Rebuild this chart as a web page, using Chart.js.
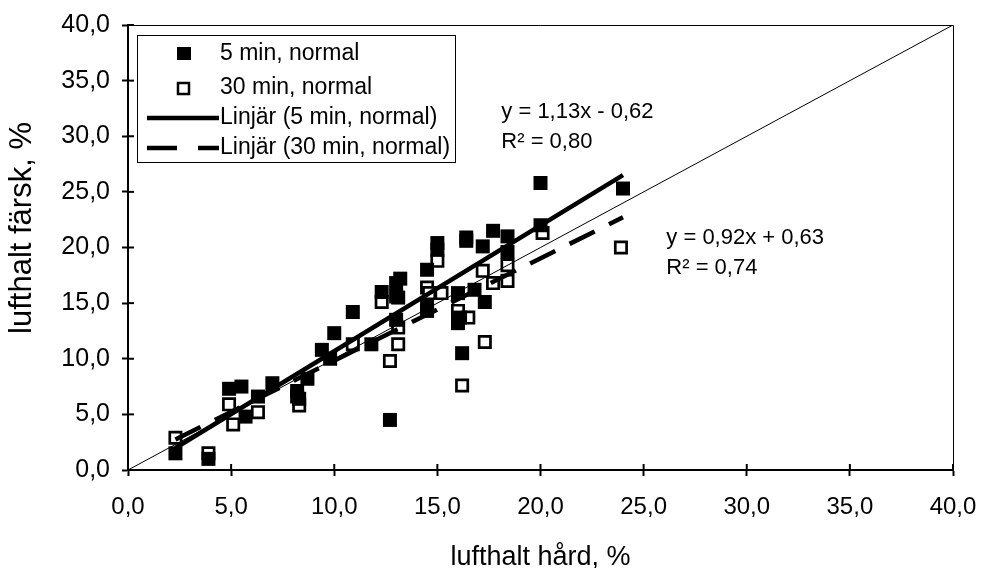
<!DOCTYPE html>
<html><head><meta charset="utf-8">
<script src="https://cdn.jsdelivr.net/npm/chart.js@4"></script>
<style>html,body{margin:0;padding:0;background:#fff}#wrap{width:982px;height:568px}</style>
</head><body><div id="wrap"><canvas id="c" width="982" height="568"></canvas></div>
<script>
// ---- data ----
const xTickValues = [0, 5, 10, 15, 20, 25, 30, 35, 40];
const yTickValues = [0, 5, 10, 15, 20, 25, 30, 35, 40];
const seriesLabels = ['5 min, normal', '30 min, normal', 'Linjär (5 min, normal)', 'Linjär (30 min, normal)'];
const xTitle = 'lufthalt hård, %';
const yTitle = 'lufthalt färsk, %';

const x5min = [2.3, 3.9, 4.9, 5.5, 5.7, 6.3, 7.0, 8.2, 8.3, 8.7, 9.4, 10.0, 9.8, 10.9, 11.8, 12.3, 12.7, 13.0, 13.1, 13.2, 13.0, 14.5, 14.5, 14.5, 15.0, 15.0, 16.0, 16.0, 16.1, 16.2, 16.4, 16.4, 16.8, 17.2, 17.3, 17.7, 18.4, 18.4, 20.0, 20.0, 24.0];
const y5min = [1.5, 1.0, 7.3, 7.5, 4.8, 6.6, 7.8, 7.1, 6.4, 8.2, 10.8, 12.3, 10.0, 14.2, 11.3, 16.0, 4.5, 13.5, 15.5, 17.2, 16.8, 18.0, 14.7, 14.3, 20.4, 19.8, 15.9, 13.2, 13.7, 10.5, 20.9, 20.6, 16.2, 20.1, 15.1, 21.5, 21.0, 19.6, 25.8, 22.0, 25.3];

const x30min = [2.3, 3.9, 4.9, 5.1, 6.3, 8.3, 8.2, 10.9, 12.3, 12.7, 13.0, 13.1, 13.1, 14.5, 14.6, 15.0, 15.2, 16.0, 16.5, 16.2, 17.2, 17.3, 17.7, 18.4, 18.4, 20.1, 23.9];
const y30min = [2.9, 1.5, 5.9, 4.1, 5.2, 5.8, 6.6, 11.3, 15.1, 9.8, 15.6, 11.3, 12.8, 16.4, 15.9, 18.8, 15.9, 14.3, 13.7, 7.6, 17.9, 11.5, 16.8, 18.4, 17.0, 21.3, 20.0];

const fitSlope = [1.13, 0.92];
const fitIntercept = [-0.62, 0.63];
const fitRange = [[2.3, 24.0], [2.3, 24.0]];
const fitEquation = ['y = 1,13x - 0,62', 'y = 0,92x + 0,63'];
const fitR2 = ['R² = 0,80', 'R² = 0,74'];
const fitTextAt = [[18.1, 32.2], [26.1, 20.9]];
const refLine = [0, 40];

// ---- build ----
const pts = (xs, ys) => xs.map((x, i) => ({ x, y: ys[i] }));
const fitPts = k => fitRange[k].map(x => ({ x, y: fitSlope[k] * x + fitIntercept[k] }));
const fmt = v => Number(v).toFixed(1).replace('.', ',');
const FONT = "'Liberation Sans', Arial, sans-serif";

const ds = [
  { label: seriesLabels[0], type: 'scatter', data: pts(x5min, y5min), pointStyle: 'rect', pointRadius: 9.9, backgroundColor: '#000', borderColor: '#000', borderWidth: 0, order: 3 },
  { label: seriesLabels[1], type: 'scatter', data: pts(x30min, y30min), pointStyle: 'rect', pointRadius: 8, backgroundColor: '#fff', borderColor: '#000', borderWidth: 2.7, order: 4 },
  { label: seriesLabels[2], type: 'line', data: fitPts(0), borderColor: '#000', borderWidth: 4.5, pointRadius: 0, fill: false, order: 1 },
  { label: seriesLabels[3], type: 'line', data: fitPts(1), borderColor: '#000', borderWidth: 4.5, borderDash: [28, 16], pointRadius: 0, fill: false, order: 2 },
  { label: 'ref', type: 'line', data: refLine.map(v => ({ x: v, y: v })), borderColor: '#000', borderWidth: 1, pointRadius: 0, fill: false, order: 0 }
];

const decor = {
  id: 'decor',
  afterDatasetsDraw(chart) {
    const { ctx, chartArea: a, scales: { x, y } } = chart;
    ctx.save();
    // frame top/right
    ctx.strokeStyle = '#000'; ctx.lineWidth = 1;
    ctx.beginPath(); ctx.moveTo(a.left, a.top + 0.5); ctx.lineTo(a.right + 0.5, a.top + 0.5); ctx.lineTo(a.right + 0.5, a.bottom); ctx.stroke();
    // inner tick halves
    ctx.lineWidth = 2;
    xTickValues.forEach(v => { const px = x.getPixelForValue(v); ctx.beginPath(); ctx.moveTo(px, a.bottom); ctx.lineTo(px, a.bottom - 6); ctx.stroke(); });
    yTickValues.forEach(v => { const py = y.getPixelForValue(v); ctx.beginPath(); ctx.moveTo(a.left, py); ctx.lineTo(a.left + 6, py); ctx.stroke(); });
    // fit annotations
    ctx.fillStyle = '#000'; ctx.font = '22px ' + FONT; ctx.textBaseline = 'middle'; ctx.textAlign = 'left';
    fitTextAt.forEach((p, k) => {
      const px = x.getPixelForValue(p[0]), py = y.getPixelForValue(p[1]);
      ctx.fillText(fitEquation[k], px, py);
      ctx.fillText(fitR2[k], px, py + 30);
    });
    // legend
    const L = 137, T = 35, R = 455, B = 162;
    ctx.fillStyle = '#fff'; ctx.fillRect(L, T, R - L, B - T);
    ctx.lineWidth = 1; ctx.strokeStyle = '#000'; ctx.strokeRect(L + 0.5, T + 0.5, R - L, B - T);
    const rows = [54, 88, 118, 148];
    ctx.font = '23px ' + FONT;
    rows.forEach((ry, i) => {
      const d = chart.data.datasets[i];
      ctx.fillStyle = '#000';
      if (i === 0) { ctx.fillRect(177, ry - 7, 14, 13); }
      else if (i === 1) { ctx.lineWidth = 2.5; ctx.strokeRect(178, ry - 5, 11, 11); }
      else {
        ctx.lineWidth = 4.5; ctx.setLineDash(i === 3 ? [30, 21] : []);
        ctx.beginPath(); ctx.moveTo(147, ry); ctx.lineTo(219, ry); ctx.stroke(); ctx.setLineDash([]);
      }
      ctx.fillText(d.label, 220, ry);
    });
    // axis titles
    ctx.font = '27px ' + FONT; ctx.textAlign = 'center';
    ctx.fillText(xTitle, (a.left + a.right) / 2, 558);
    ctx.save(); ctx.translate(22, 228); ctx.rotate(-Math.PI / 2);
    ctx.font = '31px ' + FONT; ctx.fillText(yTitle, 0, 0); ctx.restore();
    ctx.restore();
  }
};

new Chart(document.getElementById('c'), {
  data: { datasets: ds },
  options: {
    responsive: false, animation: false, devicePixelRatio: 1,
    layout: { padding: { left: 0, right: 29, top: 25, bottom: 0 } },
    plugins: { legend: { display: false }, tooltip: { enabled: false } },
    scales: {
      x: {
        type: 'linear', min: 0, max: 40,
        afterBuildTicks: s => { s.ticks = xTickValues.map(v => ({ value: v })); },
        afterFit: s => { s.height = 98; s.paddingLeft = 0; s.paddingRight = 0; },
        ticks: { callback: fmt, color: '#000', font: { family: FONT, size: 24 }, padding: 17, maxRotation: 0 },
        grid: { drawOnChartArea: false, drawTicks: true, tickLength: 6, tickWidth: 2, tickColor: '#000' },
        border: { display: true, color: '#000', width: 2 },
        title: { display: false, text: xTitle }
      },
      y: {
        type: 'linear', min: 0, max: 40,
        afterBuildTicks: s => { s.ticks = yTickValues.map(v => ({ value: v })); },
        afterFit: s => { s.width = 128; s.paddingTop = 0; s.paddingBottom = 0; },
        ticks: { callback: fmt, color: '#000', font: { family: FONT, size: 25 }, padding: 12 },
        grid: { drawOnChartArea: false, drawTicks: true, tickLength: 6, tickWidth: 2, tickColor: '#000' },
        border: { display: true, color: '#000', width: 2 },
        title: { display: false, text: yTitle }
      }
    }
  },
  plugins: [decor]
});
</script></body></html>
